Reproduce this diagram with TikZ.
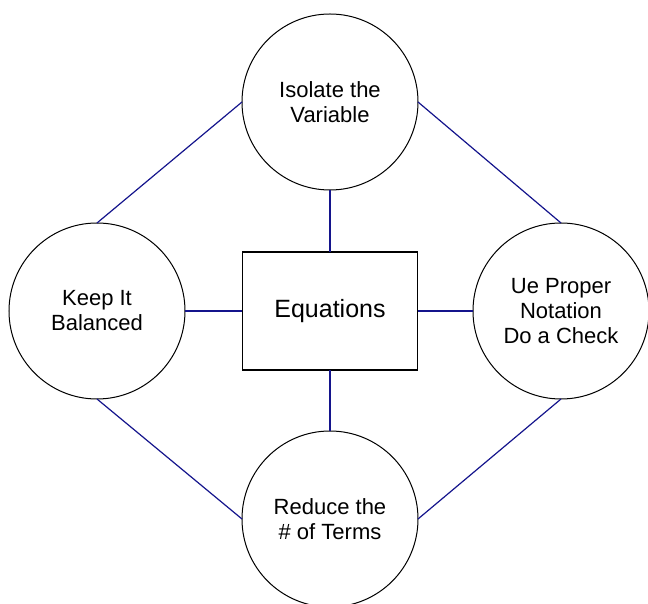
\documentclass[tikz,border=0pt]{standalone}
\usepackage{fontspec}
\setmainfont{Liberation Sans}
\definecolor{linkblue}{RGB}{20,20,140}

\begin{document}
\begin{tikzpicture}[x=0.5pt, y=0.5pt,
    topic/.style={circle, draw, line width=0.5pt, minimum size=88pt, inner sep=0pt, outer sep=0pt,
      align=center, font=\fontsize{11}{12.5}\selectfont},
    hub/.style={rectangle, draw, line width=0.6pt, minimum width=87.5pt, minimum height=59pt, outer sep=0pt,
      font=\fontsize{12.5}{14}\selectfont},
    link/.style={draw=linkblue, line width=0.6pt}]
      \useasboundingbox (-330,-293) rectangle (318,311);
      \draw
        (0,0) node[hub] (eq){Equations}
        (90:209) node[topic] (iso){Isolate the\\Variable}
        (180:233) node[topic] (bal){Keep It\\Balanced}
        (0:231) node[topic] (note){Ue Proper\\Notation\\Do a Check}
        (270:208) node[topic] (terms){Reduce the\\\# of Terms};
      \begin{scope}[link]
        \draw (iso) to (eq);
        \draw (bal) to (eq);
        \draw (eq) to (note);
        \draw (eq) to (terms);
        \draw (iso.west) to (bal.north);
        \draw (iso.east) to (note.north);
        \draw (bal.south) to (terms.west);
        \draw (note.south) to (terms.east);
      \end{scope}
    \end{tikzpicture}
\end{document}
